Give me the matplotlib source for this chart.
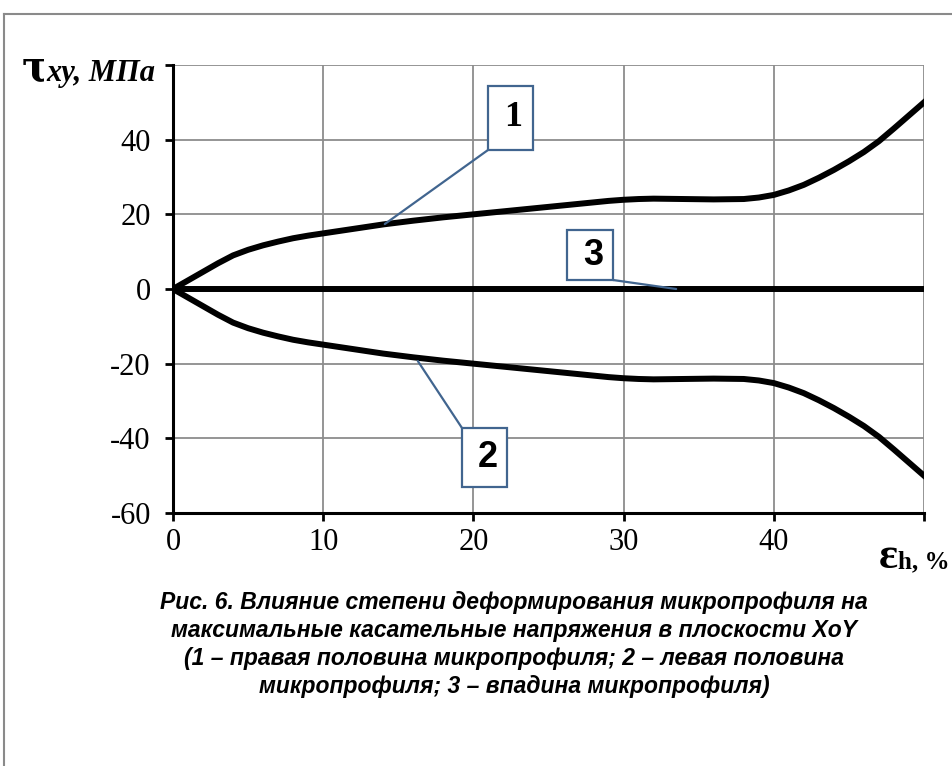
import matplotlib
matplotlib.use("Agg")
import matplotlib.pyplot as plt
from matplotlib.lines import Line2D
from matplotlib.patches import Rectangle

# deformation degree, %
eps = [0, 1, 2, 3, 4, 5, 6, 7, 8, 9, 10, 12, 14, 16, 18, 20, 22, 24, 26, 28,
       29, 30, 31, 32, 34, 36, 38, 39, 40, 41, 42, 43, 44, 45, 46, 47, 48, 49, 50]
# right half of the microprofile, MPa
tau_right = [0, 2.3, 4.6, 6.9, 9.0, 10.5, 11.7, 12.7, 13.6, 14.3, 14.9, 16.1,
             17.3, 18.3, 19.2, 20.0, 20.8, 21.6, 22.4, 23.2, 23.6, 23.9, 24.1,
             24.2, 24.1, 24.0, 24.1, 24.5, 25.2, 26.4, 27.9, 29.8, 31.9, 34.2,
             36.7, 39.6, 43.0, 46.5, 50.0]
# left half of the microprofile, MPa
tau_left = [-v for v in tau_right]
# hollow of the microprofile
tau_hollow = [0 for v in eps]

xticks = [0, 10, 20, 30, 40, 50]
xtick_labels = ["0", "10", "20", "30", "40", ""]
yticks = [-60, -40, -20, 0, 20, 40, 60]
ytick_labels = ["-60", "-40", "-20", "0", "20", "40", ""]

W, H = 952, 766
fig = plt.figure(figsize=(W / 100, H / 100), dpi=100)


def px(x, y):
    return x / W, 1 - y / H


# thin gray frame around the figure
fig.add_artist(Line2D([4 / W, 4 / W], [0, 1 - 14 / H], color="#8a8a8a", lw=1.5))
fig.add_artist(Line2D([4 / W, 1], [1 - 14 / H, 1 - 14 / H], color="#8a8a8a", lw=1.5))

ax = fig.add_axes([173 / W, 1 - 513 / H, 751 / W, 448 / H])
ax.set_xlim(0, 50)
ax.set_ylim(-60, 60)

ax.plot(eps, tau_right, color="black", lw=4.3, zorder=3)
ax.plot(eps, tau_left, color="black", lw=4.3, zorder=3)
ax.plot(eps, tau_hollow, color="black", lw=4.3, solid_capstyle="butt", zorder=3)

ax.set_xticks(xticks)
ax.set_xticklabels(xtick_labels)
ax.set_yticks(yticks)
ax.set_yticklabels(ytick_labels)
ax.grid(True, color="#8c8c8c", lw=1.3)
ax.set_axisbelow(True)
for s in ["top", "right"]:
    ax.spines[s].set_visible(False)
for s in ["left", "bottom"]:
    ax.spines[s].set_linewidth(2.2)
    ax.spines[s].set_zorder(4)
ax.tick_params(direction="out", length=6, width=2, labelsize=22, pad=5)
ax.tick_params(axis="y", pad=10)
for lab in ax.get_xticklabels() + ax.get_yticklabels():
    lab.set_fontfamily("Liberation Serif")

# callouts: label, point on curve, box (left, top, right, bottom) in px, leader corner
box_color = "#41658f"
callouts = [
    ("1", (14.1, 17.4), (488, 86, 533, 150), (488, 150), "Liberation Serif", 26),
    ("2", (16.3, -19.3), (462, 428, 507, 487), (462, 428), "Liberation Sans", 26),
    ("3", (33.5, 0.0), (567, 230, 613, 280), (613, 280), "Liberation Sans", 26),
]
for label, xy, box, corner, fam, size in callouts:
    l, t, r, b = box
    x0, y0 = px(l, b)
    x1, y1 = px(r, t)
    ax.annotate("", xy=xy, xycoords="data",
                xytext=px(*corner), textcoords="figure fraction",
                arrowprops=dict(arrowstyle="-", color=box_color, lw=1.6,
                                shrinkA=0, shrinkB=0), zorder=5)
    fig.add_artist(Rectangle((x0, y0), x1 - x0, y1 - y0, transform=fig.transFigure,
                             fc="white", ec=box_color, lw=1.6, zorder=6))
    fig.text((x0 + x1) / 2 + 3 / W, (y0 + y1) / 2, label, ha="center", va="center",
             fontsize=size, fontweight="bold", family=fam, zorder=7)

# axis titles
fig.text(*px(22, 81), "τ", fontsize=30, fontweight="bold", family="DejaVu Serif",
         va="baseline", ha="left")
fig.text(*px(46, 81), "xy, МПа", fontsize=22, fontweight="bold", style="italic",
         family="Liberation Serif", va="baseline", ha="left",
         bbox=dict(fc="white", ec="none", pad=1))
fig.text(*px(879, 568), "ε", fontsize=32, fontweight="bold", family="Liberation Serif",
         va="baseline", ha="left")
fig.text(*px(898, 568), "h, %", fontsize=18, fontweight="bold",
         family="Liberation Serif", va="baseline", ha="left")

caption = ("Рис. 6. Влияние степени деформирования микропрофиля на\n"
           "максимальные касательные напряжения в плоскости XoY\n"
           "(1 – правая половина микропрофиля; 2 – левая половина\n"
           "микропрофиля; 3 – впадина микропрофиля)")
fig.text(*px(514, 591), caption, fontsize=16.5, fontweight="bold", style="italic",
         family=["Liberation Sans Narrow", "Liberation Sans"], ha="center", va="top",
         linespacing=1.28)

fig.savefig("out.png", dpi=100)
